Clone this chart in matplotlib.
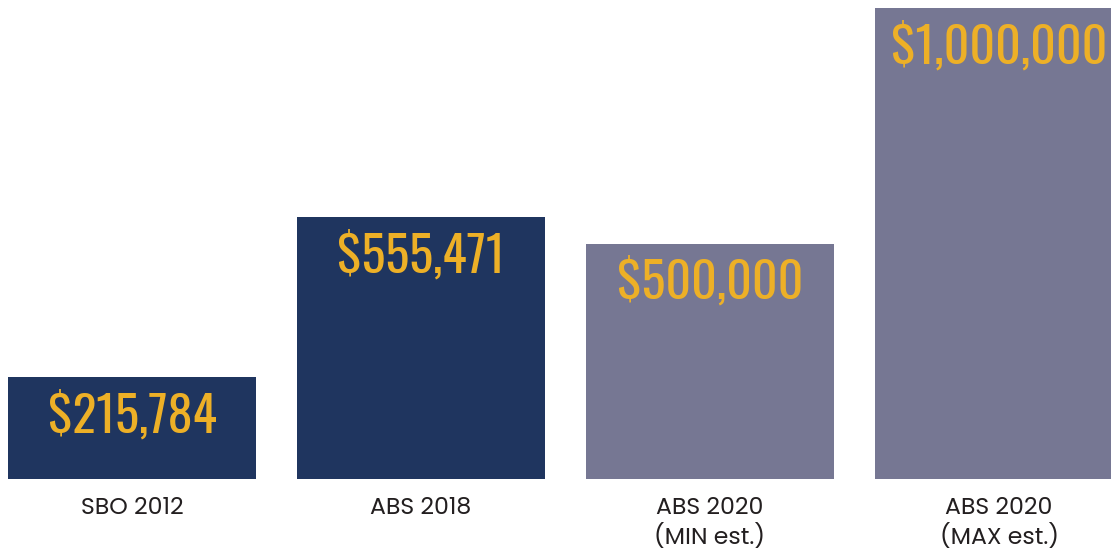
import matplotlib.pyplot as plt
from matplotlib import font_manager

# data
categories = ["SBO 2012", "ABS 2018", "ABS 2020\n(MIN est.)", "ABS 2020\n(MAX est.)"]
values = [215784, 555471, 500000, 1000000]
value_labels = ["$215,784", "$555,471", "$500,000", "$1,000,000"]
bar_colors = ["#1f355f", "#1f355f", "#767793", "#767793"]

names = {f.name for f in font_manager.fontManager.ttflist}
num_font = [f for f in ["Oswald", "Barlow Condensed", "DejaVu Sans"] if f in names]
# Montserrat here is only a thin variable font, Poppins is the nearest static one
lab_font = [f for f in ["Poppins", "Montserrat Alternates", "DejaVu Sans"] if f in names]

fig = plt.figure(figsize=(11.11, 5.53), dpi=100)
ax = fig.add_axes([0, 0, 1, 1])
x = list(range(len(categories)))
ax.bar(x, values, width=248 / 289, color=bar_colors)

ax.set_xlim(-132 / 289, (1111 - 132) / 289)
ax.set_ylim(-(553 - 479) / 471 * 1e6, 479 / 471 * 1e6)
ax.axis("off")

for xi, v, lab in zip(x, values, value_labels):
    ax.annotate(lab, (xi, v), xytext=(0, -28), textcoords="offset points",
                ha="center", va="center", color="#edb027", fontsize=36,
                family=num_font)

for xi, cat in zip(x, categories):
    ax.annotate(cat, (xi, 0), xytext=(0, -13), textcoords="offset points",
                ha="center", va="top", color="#231f20", fontsize=17,
                family=lab_font, fontweight="normal", linespacing=1.2)

fig.savefig("out.png", dpi=100)
